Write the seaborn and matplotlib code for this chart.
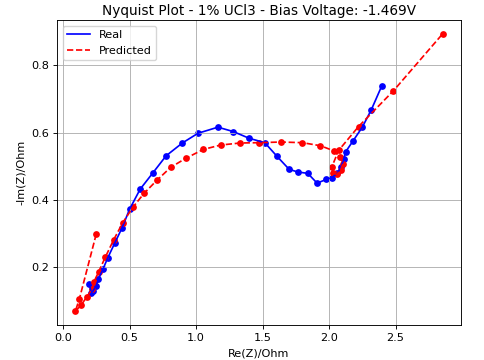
import numpy as np
import pandas as pd
import matplotlib
matplotlib.use("Agg")
import matplotlib.pyplot as plt
import seaborn as sns

# Real impedance (blue)
real_re = [0.198, 0.213, 0.226, 0.248, 0.265, 0.300, 0.335, 0.388, 0.445, 0.500,
           0.580, 0.675, 0.775, 0.897, 1.015, 1.165, 1.280, 1.400, 1.517, 1.610,
           1.700, 1.765, 1.840, 1.910, 1.980, 2.020, 2.062, 2.092, 2.110, 2.125,
           2.180, 2.250, 2.317, 2.397]
real_im = [0.150, 0.125, 0.130, 0.144, 0.164, 0.194, 0.227, 0.271, 0.318, 0.372,
           0.432, 0.480, 0.531, 0.569, 0.598, 0.616, 0.603, 0.583, 0.570, 0.529,
           0.491, 0.483, 0.479, 0.450, 0.461, 0.466, 0.479, 0.499, 0.521, 0.543,
           0.575, 0.616, 0.667, 0.739]

# Predicted impedance (red)
pred_re = [0.250, 0.123, 0.093, 0.135, 0.180, 0.218, 0.233, 0.268, 0.318, 0.380,
           0.450, 0.525, 0.610, 0.705, 0.810, 0.925, 1.055, 1.185, 1.330, 1.475,
           1.637, 1.800, 1.935, 2.035, 2.085, 2.105, 2.087, 2.060, 2.032, 2.022,
           2.072, 2.222, 2.484, 2.854]
pred_im = [0.299, 0.106, 0.070, 0.087, 0.113, 0.135, 0.157, 0.187, 0.230, 0.281,
           0.333, 0.378, 0.420, 0.458, 0.497, 0.524, 0.550, 0.563, 0.569, 0.570,
           0.572, 0.570, 0.561, 0.546, 0.527, 0.507, 0.489, 0.476, 0.479, 0.499,
           0.547, 0.618, 0.724, 0.893]

# everything scaled ~0.81 (looks like a default figure shrunk to this size)
k = 0.8145
plt.rcParams.update({
    'font.family': ['DejaVu Sans'],
    'font.size': 10 * k,
    'axes.linewidth': 0.8 * k,
    'grid.linewidth': 0.8 * k,
    'xtick.major.size': 3.5 * k,
    'ytick.major.size': 3.5 * k,
    'xtick.major.width': 0.8 * k,
    'ytick.major.width': 0.8 * k,
    'xtick.major.pad': 3.5 * k,
    'ytick.major.pad': 3.5 * k,
})

fig, ax = plt.subplots(figsize=(4.85, 3.6), dpi=100)
fig.subplots_adjust(left=57 / 485, right=461 / 485, top=1 - 20 / 360, bottom=1 - 325 / 360)

real_df = pd.DataFrame({'re': real_re, 'im': real_im})
pred_df = pd.DataFrame({'re': pred_re, 'im': pred_im})

# lines (legend shows lines only)
sns.lineplot(data=real_df, x='re', y='im', sort=False, ax=ax, color='blue',
             linewidth=1.5 * k, label='Real')
sns.lineplot(data=pred_df, x='re', y='im', sort=False, ax=ax, color='red',
             linestyle='--', linewidth=1.5 * k, label='Predicted')
# markers
sns.scatterplot(data=real_df, x='re', y='im', ax=ax, color='blue',
                s=(6 * k) ** 2, linewidth=0, legend=False)
sns.scatterplot(data=pred_df, x='re', y='im', ax=ax, color='red',
                s=(6 * k) ** 2, linewidth=0, legend=False)

ax.set_title("Nyquist Plot - 1% UCl3 - Bias Voltage: -1.469V", fontsize=12 * k, pad=3.5)
ax.set_xlabel("Re(Z)/Ohm")
ax.set_ylabel("-Im(Z)/Ohm")
ax.set_xticks([0.0, 0.5, 1.0, 1.5, 2.0, 2.5])
ax.set_yticks([0.2, 0.4, 0.6, 0.8])
ax.grid(True)
ax.legend(loc='upper left')

fig.savefig("out.png", dpi=100)
